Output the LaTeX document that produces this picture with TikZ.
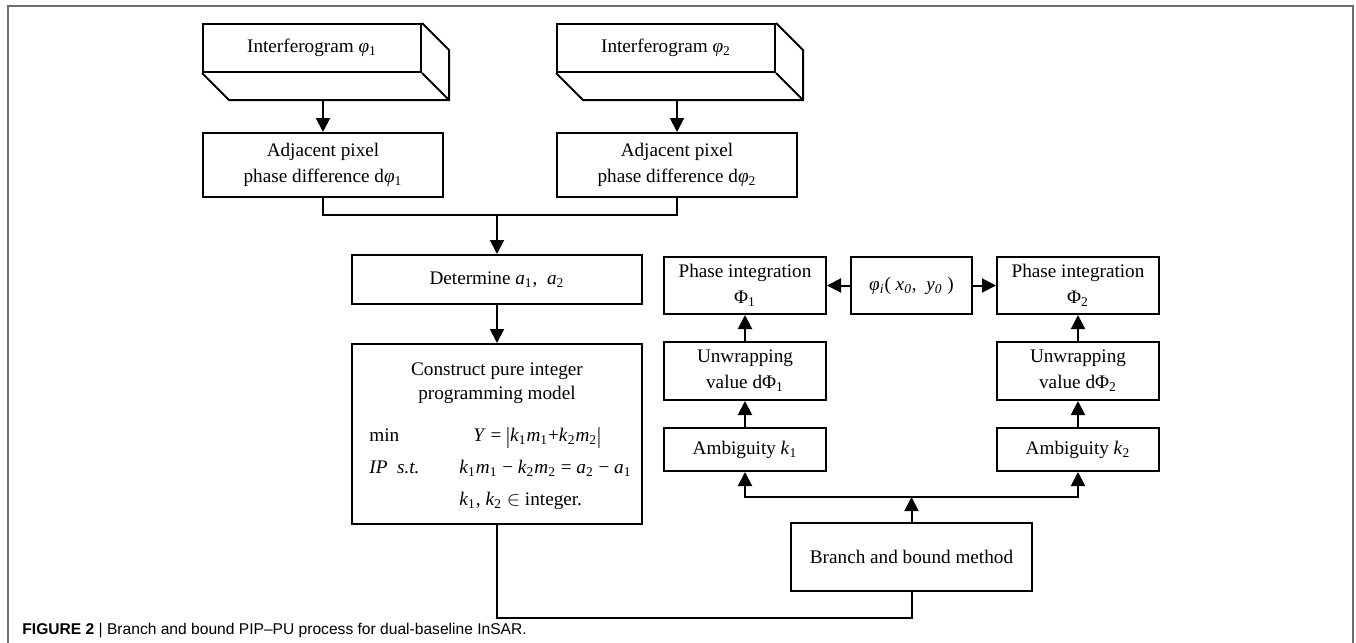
\documentclass[tikz,border=0pt]{standalone}
\usepackage{fontspec}
\usepackage{graphicx}
\setmainfont{Liberation Serif}
\setsansfont{Liberation Sans}
\usetikzlibrary{arrows.meta,calc}
\definecolor{framegray}{HTML}{6E6E6E}
\newcommand{\isub}[2]{\textit{#1}\textsubscript{#2}}
\newcommand{\absbar}{\raisebox{-0.12em}{\scalebox{1}[1.2]{|}}}
\tikzset{
  box/.style={draw, line width=1pt, align=center, inner sep=2pt, font=\fontsize{9.6}{13}\selectfont},
  arr/.style={line width=1pt, -{Triangle[length=7pt,width=7pt]}},
  link/.style={line width=1pt},
}
\begin{document}
\begin{tikzpicture}[x=0.5pt,y=-0.5pt]
\useasboundingbox (0,0) rectangle (1356,643);
\draw[framegray, line width=0.7pt] (8,643) -- (8,6) -- (1353,6) -- (1353,643);

% input interferograms
\node[box, minimum width=109pt, minimum height=24pt] (int1) at (312,48) {Interferogram \isub{φ}{1}};
\node[box, minimum width=109pt, minimum height=24pt] (int2) at (666,48) {Interferogram \isub{φ}{2}};
\foreach \n in {int1,int2}
  \draw[link] (\n.south west) -- ++(27,27) -- ($(\n.south east)+(27,27)$) -- ($(\n.north east)+(27,27)$) -- (\n.north east)
    (\n.south east) -- ++(27,27);

\node[box, minimum width=120pt, minimum height=32pt] (adj1) at (323,165) {Adjacent pixel\\phase difference d\isub{φ}{1}};
\node[box, minimum width=120pt, minimum height=32pt] (adj2) at (677,165) {Adjacent pixel\\phase difference d\isub{φ}{2}};
\draw[arr] ($(int1.south -| adj1.north)+(0,27)$) -- (adj1.north);
\draw[arr] ($(int2.south -| adj2.north)+(0,27)$) -- (adj2.north);

\coordinate (merge) at (497,215);
\draw[link] (adj1.south) |- (merge) -| (adj2.south);

\node[box, minimum width=145pt, minimum height=24.5pt] (det) at (497,279.5) {Determine \isub{a}{1},\ \ \isub{a}{2}};
\draw[arr] (merge) -- (det.north);

% integer programming model
\node[box, minimum width=145pt, minimum height=90pt, anchor=north] (cons) at (497,343) {};
\node[align=center, inner sep=0pt, font=\fontsize{9.6}{12}\selectfont] (constitle) at (497,383) {Construct pure integer\\programming model};
\node[anchor=west, inner sep=0pt, font=\fontsize{9.6}{13}\selectfont] (model) at (369,467) {\renewcommand{\arraystretch}{1.23}%
\begin{tabular}{@{}p{45pt}@{}l@{}}
min & \hspace{7pt}\textit{Y} = \absbar\isub{k}{1}\isub{m}{1}+\isub{k}{2}\isub{m}{2}\absbar \\
\textit{IP}\ \ \textit{s.t.} & \isub{k}{1}\isub{m}{1} − \isub{k}{2}\isub{m}{2} = \isub{a}{2} − \isub{a}{1} \\
 & \isub{k}{1}, \isub{k}{2} $\in$ integer.
\end{tabular}};
\draw[arr] (det) -- (cons);

% unwrapping branch
\node[box, minimum width=81pt, minimum height=28.5pt] (ph1) at (745,285.5) {Phase integration\\Φ\textsubscript{1}};
\node[box, minimum width=60.5pt, minimum height=28.5pt] (phii) at (911.5,285.5) {\textit{φ\textsubscript{i}}( \textit{x\textsubscript{0}},\ \ \textit{y\textsubscript{0}} )};
\node[box, minimum width=81pt, minimum height=28.5pt] (ph2) at (1078,285.5) {Phase integration\\Φ\textsubscript{2}};
\draw[arr] (phii) -- (ph1);
\draw[arr] (phii) -- (ph2);

\node[box, minimum width=81pt, minimum height=29pt] (unw1) at (745,371) {Unwrapping\\value dΦ\textsubscript{1}};
\node[box, minimum width=81pt, minimum height=29pt] (unw2) at (1078,371) {Unwrapping\\value dΦ\textsubscript{2}};
\node[box, minimum width=81pt, minimum height=21.5pt] (amb1) at (745,449.5) {Ambiguity \isub{k}{1}};
\node[box, minimum width=81pt, minimum height=21.5pt] (amb2) at (1078,449.5) {Ambiguity \isub{k}{2}};
\draw[arr] (unw1) -- (ph1);
\draw[arr] (unw2) -- (ph2);
\draw[arr] (amb1) -- (unw1);
\draw[arr] (amb2) -- (unw2);

\node[box, minimum width=120.5pt, minimum height=34pt] (branch) at (911.5,557) {Branch and bound method};
\coordinate (split) at (911.5,497);
\draw[arr] (branch) -- (split);
\draw[arr] (split) -| (amb1);
\draw[arr] (split) -| (amb2);

\coordinate (low) at (497,618);
\draw[link] (cons.south) -- (low) -| (branch.south);

\node[anchor=base west, inner sep=0pt, font=\sffamily\fontsize{7.8}{9}\selectfont] (caption) at (22,634)
  {\textbf{FIGURE 2} | Branch and bound PIP–PU process for dual-baseline InSAR.};
\end{tikzpicture}
\end{document}
